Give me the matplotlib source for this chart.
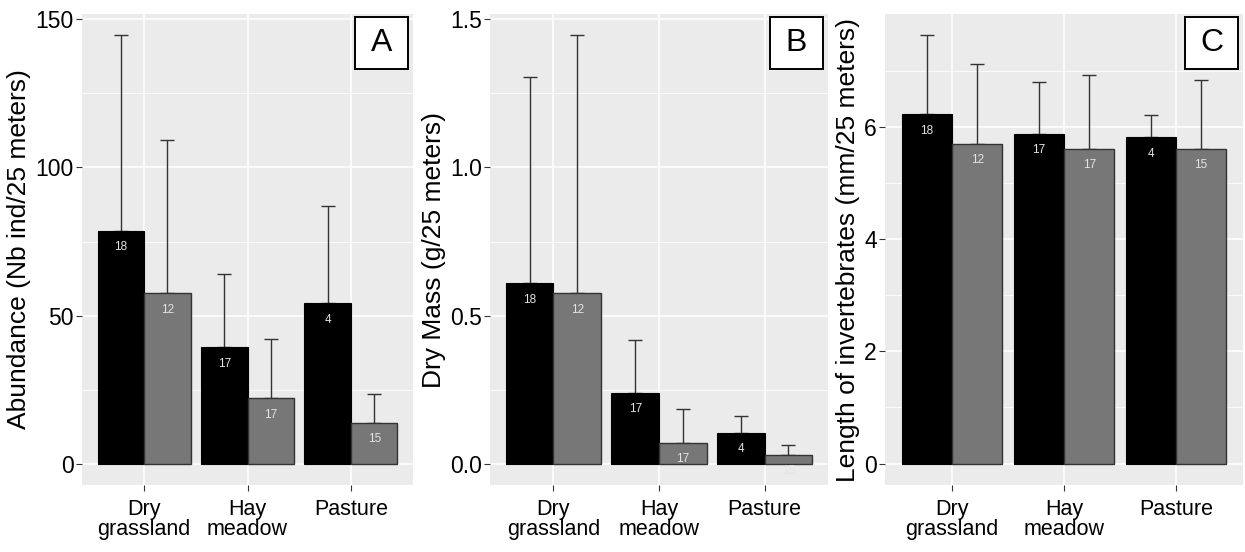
import numpy as np
import matplotlib.pyplot as plt
from matplotlib.patches import Rectangle

plt.rcParams["font.family"] = ["Liberation Sans", "DejaVu Sans"]

categories = ["Dry\ngrassland", "Hay\nmeadow", "Pasture"]

# A - abundance
abund_black = [78.7, 39.4, 54.2]
abund_black_sd = [65.9, 24.5, 32.9]
abund_gray = [57.5, 22.2, 13.8]
abund_gray_sd = [51.8, 19.8, 9.7]

# B - dry mass
mass_black = [0.609, 0.239, 0.104]
mass_black_sd = [0.696, 0.178, 0.057]
mass_gray = [0.575, 0.071, 0.030]
mass_gray_sd = [0.871, 0.114, 0.034]

# C - length
length_black = [6.23, 5.88, 5.82]
length_black_sd = [1.40, 0.92, 0.39]
length_gray = [5.70, 5.61, 5.61]
length_gray_sd = [1.42, 1.31, 1.22]

n_black = [18, 17, 4]
n_gray = [12, 17, 15]

panels = [
    ("A", "Abundance (Nb ind/25 meters)", abund_black, abund_black_sd, abund_gray, abund_gray_sd,
     [0, 50, 100, 150], ["0", "50", "100", "150"]),
    ("B", "Dry Mass (g/25 meters)", mass_black, mass_black_sd, mass_gray, mass_gray_sd,
     [0, 0.5, 1.0, 1.5], ["0.0", "0.5", "1.0", "1.5"]),
    ("C", "Length of invertebrates (mm/25 meters)", length_black, length_black_sd, length_gray, length_gray_sd,
     [0, 2, 4, 6], ["0", "2", "4", "6"]),
]

W, H = 1245, 552
boxes = [(82, 413), (490, 828), (885, 1243)]
top, bottom = 14, 485

fig = plt.figure(figsize=(W / 100, H / 100), dpi=100)

x = np.arange(len(categories))
bw = 0.45

for (left, right), (letter, ylabel, bl, bl_sd, gr, gr_sd, ticks, ticklabels) in zip(boxes, panels):
    ax = fig.add_axes([left / W, (H - bottom) / H, (right - left) / W, (bottom - top) / H])
    ax.set_facecolor("#EBEBEB")
    for s in ax.spines.values():
        s.set_visible(False)

    xb = x - bw / 2
    xg = x + bw / 2
    ax.bar(xb, bl, width=bw, color="black", edgecolor="black", linewidth=0.8, zorder=3)
    ax.bar(xg, gr, width=bw, color="#777777", edgecolor="#333333", linewidth=1.0, zorder=3)
    for xs, vals, sds in [(xb, bl, bl_sd), (xg, gr, gr_sd)]:
        ax.errorbar(xs, vals, yerr=[np.zeros(len(vals)), sds], fmt="none",
                    ecolor="#333333", elinewidth=1.0, capsize=5, capthick=1.0, zorder=2)

    for xs, vals, ns in [(xb, bl, n_black), (xg, gr, n_gray)]:
        for xi, v, n in zip(xs, vals, ns):
            ax.annotate(str(n), (xi, v), xytext=(0, -12), textcoords="offset points",
                        ha="center", va="center", color="#E4E4E4", fontsize=8.5, zorder=4)

    ymax = max(max(np.array(bl) + np.array(bl_sd)), max(np.array(gr) + np.array(gr_sd)))
    ax.set_ylim(-0.05 * ymax, ymax * 1.05)
    ax.set_xlim(-0.6, len(categories) - 0.4)

    ax.set_yticks(ticks)
    ax.set_yticklabels(ticklabels)
    step = ticks[1] - ticks[0]
    minor = [t + step / 2 for t in ticks if t + step / 2 < ymax * 1.05]
    ax.set_yticks(minor, minor=True)
    ax.set_xticks(x)
    ax.set_xticklabels(categories)

    ax.grid(True, which="major", color="white", linewidth=1.1, zorder=0)
    ax.grid(True, which="minor", axis="y", color="white", linewidth=0.55, zorder=0)
    ax.set_axisbelow(True)
    ax.tick_params(axis="y", which="major", length=4, color="#333333", labelsize=16.5,
                   labelcolor="black", width=0.8, pad=2)
    ax.tick_params(axis="x", which="major", length=4, color="#333333", labelsize=15.5,
                   labelcolor="black", width=0.8, pad=6)
    ax.tick_params(axis="both", which="minor", length=0)
    for lab in ax.get_xticklabels():
        lab.set_linespacing(0.95)

    ax.set_ylabel(ylabel, fontsize=19, labelpad=3)

    # panel letter in a framed box, top-right corner
    bx1 = (right - 5) / W
    by1 = (H - top - 3) / H
    bwid, bhei = 53 / W, 52 / H
    fig.patches.append(Rectangle((bx1 - bwid, by1 - bhei), bwid, bhei, transform=fig.transFigure,
                                 facecolor="white", edgecolor="black", linewidth=1.4, zorder=5))
    fig.text(bx1 - bwid / 2, by1 - bhei / 2, letter, fontsize=23, ha="center", va="center", zorder=6)

fig.savefig("out.png", dpi=100)
